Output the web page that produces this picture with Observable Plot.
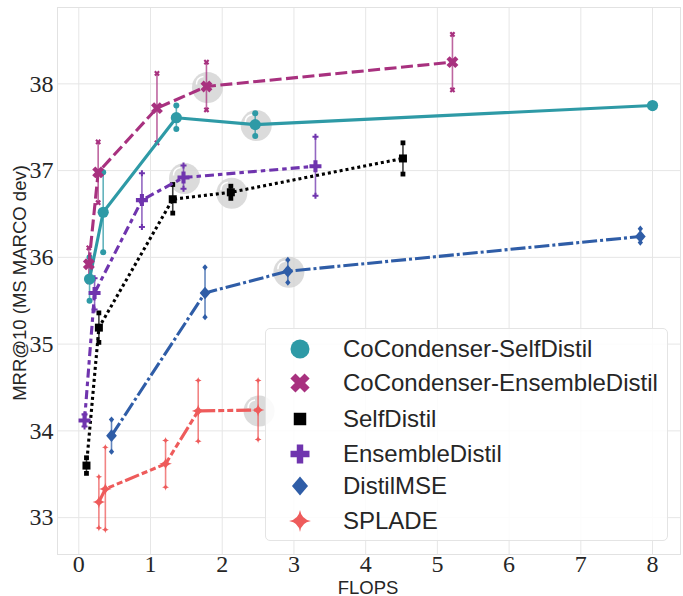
<!DOCTYPE html>
<html>
<head>
<meta charset="utf-8">
<script src="https://cdn.jsdelivr.net/npm/d3@7"></script>
<script src="https://cdn.jsdelivr.net/npm/@observablehq/plot@0.6"></script>
<style>
  body { margin: 0; background: #fff; }
  #wrap { position: relative; width: 683px; height: 596px; font-family: "Liberation Sans", Arial, sans-serif; }
  #ylab { position: absolute; left: 20px; top: 283px; transform: translate(-50%, -50%) rotate(-90deg); font-size: 18.5px; line-height: 20px; color: #262626; white-space: nowrap; }
  #xlab { position: absolute; left: 368px; top: 587px; transform: translate(-50%, -50%); font-size: 18.5px; line-height: 17px; color: #262626; white-space: nowrap; }
  #legend { position: absolute; left: 265px; top: 328px; width: 403px; height: 213px; box-sizing: border-box; border: 1px solid #e4e4e4; border-radius: 5px; background: rgba(255,255,255,0.85); }
  .row { position: absolute; left: 0; height: 30px; display: flex; align-items: center; font-size: 24px; color: #262626; white-space: nowrap; }
  .row svg { margin-left: 22px; margin-right: 31px; }
</style>
</head>
<body>
<div id="wrap">
  <div id="chart"></div>
  <div id="ylab">MRR@10 (MS MARCO dev)</div>
  <div id="xlab">FLOPS</div>
  <div id="legend"></div>
</div>
<script>
// ---- data ----
const seriesNames = ["CoCondenser-SelfDistil", "CoCondenser-EnsembleDistil", "SelfDistil", "EnsembleDistil", "DistilMSE", "SPLADE"];
const seriesColors = ["#2e9aa6", "#a8317f", "#000000", "#6f34ae", "#2f5da7", "#ee5b5b"];

const ccSelfX  = [0.15, 0.34, 1.36, 2.46, 8.0];
const ccSelfY  = [35.75, 36.52, 37.61, 37.53, 37.75];
const ccSelfLo = [35.50, 36.06, 37.48, 37.40, null];
const ccSelfHi = [36.00, 36.98, 37.75, 37.66, null];

const ccEnsX  = [0.14, 0.27, 1.09, 1.78, 5.21];
const ccEnsY  = [35.92, 36.98, 37.72, 37.97, 38.25];
const ccEnsLo = [35.72, 36.63, 37.32, 37.70, 37.93];
const ccEnsHi = [36.11, 37.33, 38.12, 38.25, 38.57];

const selfX  = [0.107, 0.28, 1.31, 2.12, 4.52];
const selfY  = [33.60, 35.19, 36.67, 36.75, 37.14];
const selfLo = [33.51, 35.02, 36.51, 36.68, 36.96];
const selfHi = [33.69, 35.36, 36.84, 36.82, 37.32];

const ensX  = [0.08, 0.22, 0.88, 1.46, 3.30];
const ensY  = [34.12, 35.59, 36.66, 36.92, 37.05];
const ensLo = [34.05, 35.40, 36.35, 36.79, 36.71];
const ensHi = [34.19, 35.76, 36.97, 37.06, 37.39];

const mseX  = [0.456, 1.76, 2.915, 7.83];
const mseY  = [33.945, 35.59, 35.84, 36.24];
const mseLo = [33.76, 35.31, 35.71, 36.17];
const mseHi = [34.13, 35.885, 35.97, 36.33];

const spladeX  = [0.28, 0.37, 1.21, 1.665, 2.50];
const spladeY  = [33.18, 33.33, 33.62, 34.23, 34.24];
const spladeLo = [32.88, 32.86, 33.35, 33.88, 33.90];
const spladeHi = [33.47, 33.81, 33.89, 34.58, 34.58];

const highlightIndex = [3, 3, 3, 3, 2, 4];
const xTicks = [0, 1, 2, 3, 4, 5, 6, 7, 8];
const yTicks = [33, 34, 35, 36, 37, 38];

// ---- styles ----
const dashes = [null, "12,4.5", "3,3", "9,4,4.5,4", "15,3,3,3", "15,3,6,3,6,3"];

// custom symbols
const symThickX = {draw(ctx, size) {
  const r = Math.sqrt(size / Math.PI), w = r * 0.36;
  const pts = [[-w,-r],[w,-r],[w,-w],[r,-w],[r,w],[w,w],[w,r],[-w,r],[-w,w],[-r,w],[-r,-w],[-w,-w]];
  const c = Math.SQRT1_2;
  pts.forEach(([x,y],i) => { const X = (x - y) * c, Y = (x + y) * c; i ? ctx.lineTo(X,Y) : ctx.moveTo(X,Y); });
  ctx.closePath();
}};
const symStar4 = {draw(ctx, size) {
  const r = Math.sqrt(size / Math.PI) * 1.15, k = r * 0.22;
  ctx.moveTo(0,-r);
  ctx.quadraticCurveTo(k*0.6,-k*0.6, r,0);
  ctx.quadraticCurveTo(k*0.6,k*0.6, 0,r);
  ctx.quadraticCurveTo(-k*0.6,k*0.6, -r,0);
  ctx.quadraticCurveTo(-k*0.6,-k*0.6, 0,-r);
  ctx.closePath();
}};
const symPlus = {draw(ctx, size) {
  const r = Math.sqrt(size / Math.PI), w = r * 0.34;
  const pts = [[-w,-r],[w,-r],[w,-w],[r,-w],[r,w],[w,w],[w,r],[-w,r],[-w,w],[-r,w],[-r,-w],[-w,-w]];
  pts.forEach(([x,y],i) => i ? ctx.lineTo(x,y) : ctx.moveTo(x,y));
  ctx.closePath();
}};
const symSquare = {draw(ctx, size) { const r = Math.sqrt(size / Math.PI) * 0.8; ctx.rect(-r,-r,2*r,2*r); }};
const symDiamond = {draw(ctx, size) {
  const r = Math.sqrt(size / Math.PI) * 1.05;
  ctx.moveTo(0,-r); ctx.lineTo(r*0.85,0); ctx.lineTo(0,r); ctx.lineTo(-r*0.85,0); ctx.closePath();
}};
const symHighlight = {draw(ctx, size) {
  ctx.moveTo(-11,-3); ctx.quadraticCurveTo(-11,-10,-4,-11);
}};
const symbols = [d3.symbolCircle, symThickX, symSquare, symPlus, symDiamond, symStar4];
const markR = [5.6, 6.2, 5, 6, 6, 5.5];

const xs = [ccSelfX, ccEnsX, selfX, ensX, mseX, spladeX];
const ys = [ccSelfY, ccEnsY, selfY, ensY, mseY, spladeY];
const los = [ccSelfLo, ccEnsLo, selfLo, ensLo, mseLo, spladeLo];
const his = [ccSelfHi, ccEnsHi, selfHi, ensHi, mseHi, spladeHi];

const series = seriesNames.map((name, s) => xs[s].map((x, i) => ({
  name, x, y: ys[s][i], lo: los[s][i], hi: his[s][i]
})));
const highlights = series.map((pts, s) => pts[highlightIndex[s]]);

const marks = [
  Plot.gridX(xTicks, {stroke: "#e6e6e6", strokeOpacity: 1, strokeWidth: 1}),
  Plot.gridY(yTicks, {stroke: "#e6e6e6", strokeOpacity: 1, strokeWidth: 1}),
  Plot.frame({stroke: "#e2e2e2"}),
  Plot.axisX(xTicks, {tickSize: 0, tickPadding: 0, fontSize: 24, fontFamily: "Liberation Serif", label: null, tickFormat: d => String(d)}),
  Plot.axisY(yTicks, {tickSize: 0, tickPadding: 4, fontSize: 24, fontFamily: "Liberation Serif", label: null, tickFormat: d => String(d)}),
  Plot.dot(highlights, {x: "x", y: "y", r: 15.5, fill: "#d2d2d2", fillOpacity: 0.8, dx: 1, dy: 1}),
  Plot.dot(highlights, {x: "x", y: "y", r: 15.5, symbol: symHighlight, fill: "none", stroke: "white", strokeWidth: 1.6, dx: 1, dy: 1})
];

series.forEach((pts, s) => {
  const c = seriesColors[s];
  const eb = pts.filter(d => d.lo != null);
  marks.push(Plot.ruleX(eb, {x: "x", y1: "lo", y2: "hi", stroke: c, strokeWidth: 1.6, strokeOpacity: 0.75}));
  marks.push(Plot.dot(eb, {x: "x", y: "lo", r: 3, symbol: symbols[s], fill: c, stroke: "none"}));
  marks.push(Plot.dot(eb, {x: "x", y: "hi", r: 3, symbol: symbols[s], fill: c, stroke: "none"}));
});
series.forEach((pts, s) => {
  const c = seriesColors[s];
  marks.push(Plot.line(pts, {x: "x", y: "y", stroke: c, strokeWidth: 3.1, strokeDasharray: dashes[s], strokeLinecap: "butt", strokeLinejoin: "round"}));
  marks.push(Plot.dot(pts, {x: "x", y: "y", r: markR[s], symbol: symbols[s], fill: c, stroke: "none"}));
});

const chart = Plot.plot({
  width: 683,
  height: 596,
  marginLeft: 57,
  marginRight: 3,
  marginTop: 7,
  marginBottom: 42,
  style: {background: "white", color: "#262626"},
  x: {domain: [-0.297, 8.39], axis: null},
  y: {domain: [32.575, 38.88], axis: null},
  marks
});
document.getElementById("chart").appendChild(chart);

// ---- legend ----
const legend = document.getElementById("legend");
const rowTops = [20, 54, 90, 125, 157, 192];
const legR = [9.5, 10, 7.8, 9.5, 9, 9.5];
seriesNames.forEach((name, s) => {
  const row = document.createElement("div");
  row.className = "row";
  row.style.top = (rowTops[s] - 15) + "px";
  const size = 24;
  const path = d3.symbol(symbols[s], legR[s] * legR[s] * Math.PI)();
  row.innerHTML = `<svg width="${size}" height="${size}" viewBox="${-size/2} ${-size/2} ${size} ${size}"><path d="${path}" fill="${seriesColors[s]}"/></svg><span>${name}</span>`;
  legend.appendChild(row);
});
</script>
</body>
</html>
